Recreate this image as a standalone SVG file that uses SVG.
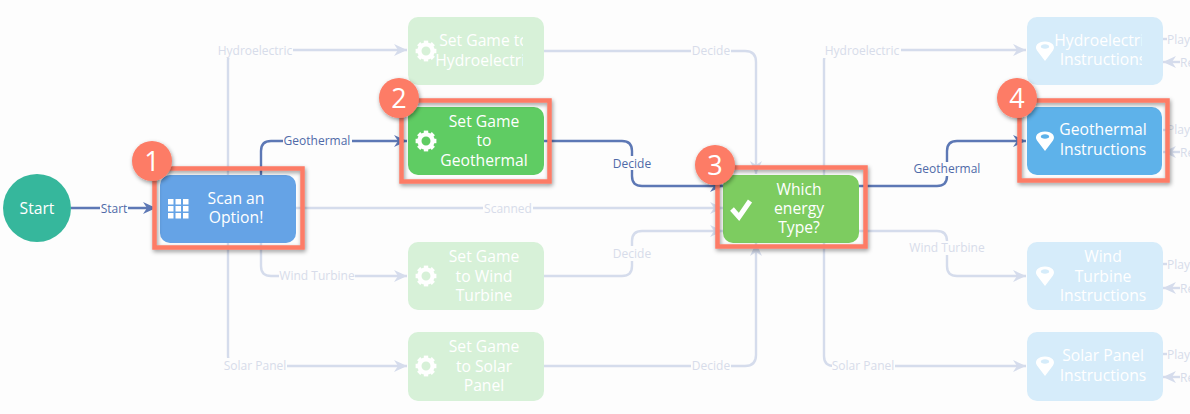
<svg xmlns="http://www.w3.org/2000/svg" width="1190" height="414" viewBox="0 0 1190 414">
<style>
text{font-family:"Open Sans","Liberation Sans",sans-serif;text-anchor:middle}
.n{font-size:15.7px;fill:#fff}
.l{font-size:12px}
.la{fill:#4f6aa8}.lf{fill:#d7dcea}
.s{text-anchor:start}
.bg{fill:#fdfdfd}
.c{fill:none;stroke-width:2.4}
.cf{stroke:#d5dcec;marker-end:url(#af)}
.ca{stroke:#5d78b5;marker-end:url(#aa)}
.cs{stroke:#d5dcec}
.fg{fill:#d7f1d8}.fb{fill:#d6ecfa}
.hl{fill:none;stroke:#fd7b66;stroke-width:4.5;filter:url(#sh)}
.b{fill:#fd7b66;filter:url(#sh)}
.d{font-size:27px;fill:#fff}
</style>
<defs>
<marker id="af" markerUnits="userSpaceOnUse" markerWidth="14" markerHeight="14" refX="13" refY="7" orient="auto"><path d="M0,1 L13,7 L0,13 L4,7 z" fill="#d5dcec"/></marker>
<marker id="aa" markerUnits="userSpaceOnUse" markerWidth="14" markerHeight="14" refX="13" refY="7" orient="auto"><path d="M0,1 L13,7 L0,13 L4,7 z" fill="#5d78b5"/></marker>
<filter id="sh" x="-15%" y="-15%" width="130%" height="130%"><feDropShadow dx="1" dy="2" stdDeviation="2" flood-color="#000" flood-opacity=".4"/></filter>
<g id="gear" fill="#fff"><circle r="6.6" fill="none" stroke="#fff" stroke-width="4.2"/><g id="t"><rect x="-2.2" y="-10.4" width="4.4" height="4"/><rect x="-2.2" y="6.4" width="4.4" height="4"/><rect x="-10.4" y="-2.2" width="4" height="4.4"/><rect x="6.4" y="-2.2" width="4" height="4.4"/></g><use href="#t" transform="rotate(45)"/></g>
<path id="pin" fill="#fff" fill-rule="evenodd" d="M0,10 L-8,-0.500 C-11,-5 -7,-9.500 0,-9.500 C7,-9.500 11,-5 8,-0.500 Z M0,-6.800 C-2.600,-6.800 -4.200,-5.800 -4.200,-4.500 C-4.200,-3.200 -2.600,-2.300 0,-2.300 C2.600,-2.300 4.200,-3.200 4.200,-4.500 C4.200,-5.800 2.600,-6.800 0,-6.800 Z"/>
<clipPath id="cl1"><rect x="436" y="17" width="87" height="68"/></clipPath>
<clipPath id="cl2"><rect x="1050" y="17" width="92" height="68"/></clipPath>
</defs>
<rect width="1190" height="414" fill="#fdfdfd"/>
<g id="connectors">
<path class="c cf" d="M228,175 V60 Q228,50 238,50 H407"/>
<path class="c cf" d="M228,243 V356 Q228,366 238,366 H407"/>
<path class="c cf" d="M261,243 V266 Q261,276 271,276 H407"/>
<path class="c cf" d="M296,208 H723"/>
<path class="c cf" d="M544,51 H745 Q756,51 756,62 V174"/>
<path class="c cf" d="M544,276 H622 Q632,276 632,266 V241 Q632,231 642,231 H723"/>
<path class="c cf" d="M544,366 H745 Q756,366 756,355 V243"/>
<path class="c cf" d="M824,175 V60 Q824,50 834,50 H1026"/>
<path class="c cf" d="M824,243 V356 Q824,366 834,366 H1026"/>
<path class="c cf" d="M859,231 H937 Q947,231 947,241 V266 Q947,276 957,276 H1026"/>
<path class="c ca" d="M71,208 H156"/>
<path class="c ca" d="M261,175 V151 Q261,141 271,141 H407"/>
<path class="c ca" d="M544,141 H622 Q632,141 632,151 V176 Q632,186 642,186 H723"/>
<path class="c ca" d="M859,186 H937 Q947,186 947,176 V151 Q947,141 957,141 H1026"/>
<g class="c cs"><path d="M1163,39 H1167"/><path d="M1163,130 H1167"/><path d="M1163,264 H1167"/><path d="M1163,354 H1167"/></g>
<path class="c cf" d="M1180,62 H1163"/><path class="c cf" d="M1180,152 H1163"/><path class="c cf" d="M1180,288 H1163"/><path class="c cf" d="M1180,377 H1163"/>
<g class="bg">
<rect x="100" y="202" width="28" height="14"/>
<rect x="283" y="134" width="69" height="14"/>
<rect x="217" y="43" width="76" height="15"/>
<rect x="279" y="269" width="76" height="14"/>
<rect x="223" y="358" width="64" height="15"/>
<rect x="483" y="201" width="50" height="14"/>
<rect x="691" y="44" width="40" height="14"/>
<rect x="612" y="156" width="40" height="14"/>
<rect x="612" y="246" width="40" height="15"/>
<rect x="691" y="359" width="40" height="14"/>
<rect x="823" y="43" width="78" height="15"/>
<rect x="913" y="162" width="69" height="14"/>
<rect x="909" y="241" width="77" height="14"/>
<rect x="832" y="359" width="63" height="14"/>
</g>
<g>
<text class="l la" x="114" y="213">Start</text>
<text class="l la" x="317" y="145">Geothermal</text>
<text class="l lf" x="255" y="55">Hydroelectric</text>
<text class="l lf" x="317" y="280">Wind Turbine</text>
<text class="l lf" x="255" y="370">Solar Panel</text>
<text class="l lf" x="508" y="213">Scanned</text>
<text class="l lf" x="711" y="55">Decide</text>
<text class="l la" x="632" y="168">Decide</text>
<text class="l lf" x="632" y="258">Decide</text>
<text class="l lf" x="711" y="370">Decide</text>
<text class="l lf" x="862" y="55">Hydroelectric</text>
<text class="l la" x="947" y="173">Geothermal</text>
<text class="l lf" x="947" y="252">Wind Turbine</text>
<text class="l lf" x="863" y="370">Solar Panel</text>
<text class="l lf s" x="1167" y="44">Play</text>
<text class="l lf s" x="1180" y="67">Re</text>
<text class="l lf s" x="1167" y="134">Play</text>
<text class="l lf s" x="1180" y="157">Re</text>
<text class="l lf s" x="1167" y="269">Play</text>
<text class="l lf s" x="1180" y="293">Re</text>
<text class="l lf s" x="1167" y="359">Play</text>
<text class="l lf s" x="1180" y="382">Re</text>
</g>
</g>
<g id="start"><circle cx="37" cy="208" r="34" fill="#36b79c"/><text class="n" x="37" y="214">Start</text></g>
<g id="scan">
<rect x="160" y="175" width="136" height="68" rx="10" fill="#65a3e6"/>
<g fill="#fff"><rect x="168" y="199" width="5.500" height="5.500"/><rect x="175.500" y="199" width="5.500" height="5.500"/><rect x="183" y="199" width="5.500" height="5.500"/><rect x="168" y="206" width="5.500" height="5.500"/><rect x="175.500" y="206" width="5.500" height="5.500"/><rect x="183" y="206" width="5.500" height="5.500"/><rect x="168" y="213" width="5.500" height="5.500"/><rect x="175.500" y="213" width="5.500" height="5.500"/><rect x="183" y="213" width="5.500" height="5.500"/></g>
<text class="n" x="236" y="204">Scan an</text><text class="n" x="236" y="223">Option!</text>
<rect class="hl" x="154.500" y="168.500" width="148" height="79"/>
<circle class="b" cx="152" cy="161" r="20"/><text class="d" x="152" y="171">1</text>
</g>
<g id="set-hydro">
<rect class="fg" x="408" y="17" width="136" height="68" rx="10"/><use href="#gear" x="426" y="51"/>
<g clip-path="url(#cl1)"><text class="n" x="484" y="46">Set Game to</text><text class="n" x="484" y="66">Hydroelectric</text></g>
</g>
<g id="set-geo">
<rect x="408" y="107" width="136" height="68" rx="10" fill="#5fcc63"/><use href="#gear" x="426" y="141"/>
<text class="n" x="484" y="127">Set Game</text><text class="n" x="484" y="146">to</text><text class="n" x="484" y="166">Geothermal</text>
<rect class="hl" x="401.500" y="100.500" width="148" height="81"/>
<circle class="b" cx="399" cy="98" r="20"/><text class="d" x="399" y="108">2</text>
</g>
<g id="set-wind">
<rect class="fg" x="408" y="242" width="136" height="68" rx="10"/><use href="#gear" x="426" y="276"/>
<text class="n" x="484" y="262">Set Game</text><text class="n" x="484" y="282">to Wind</text><text class="n" x="484" y="301">Turbine</text>
</g>
<g id="set-solar">
<rect class="fg" x="408" y="332" width="136" height="69" rx="10"/><use href="#gear" x="426" y="366"/>
<text class="n" x="484" y="352">Set Game</text><text class="n" x="484" y="372">to Solar</text><text class="n" x="484" y="391">Panel</text>
</g>
<g id="which">
<rect x="723" y="175" width="136" height="68" rx="10" fill="#7dcc60"/>
<path d="M732,209 L739,217 L750,201" fill="none" stroke="#fff" stroke-width="5"/>
<text class="n" x="799" y="195">Which</text><text class="n" x="799" y="214">energy</text><text class="n" x="799" y="233">Type?</text>
<rect class="hl" x="717.500" y="167.500" width="148" height="79"/>
<circle class="b" cx="715" cy="165" r="20"/><text class="d" x="715" y="175">3</text>
</g>
<g id="inst-hydro">
<rect class="fb" x="1027" y="17" width="136" height="68" rx="10"/><use href="#pin" x="1045" y="51"/>
<g clip-path="url(#cl2)"><text class="n" x="1103" y="46">Hydroelectric</text><text class="n" x="1103" y="65">Instructions</text></g>
</g>
<g id="inst-geo">
<rect x="1027" y="107" width="135" height="68" rx="10" fill="#5eb2ea"/><use href="#pin" x="1045" y="141"/>
<text class="n" x="1103" y="135">Geothermal</text><text class="n" x="1103" y="155">Instructions</text>
<rect class="hl" x="1019.500" y="100.500" width="148" height="80"/>
<circle class="b" cx="1017" cy="98" r="20"/><text class="d" x="1017" y="108">4</text>
</g>
<g id="inst-wind">
<rect class="fb" x="1027" y="242" width="136" height="68" rx="10"/><use href="#pin" x="1045" y="276"/>
<text class="n" x="1103" y="262">Wind</text><text class="n" x="1103" y="282">Turbine</text><text class="n" x="1103" y="301">Instructions</text>
</g>
<g id="inst-solar">
<rect class="fb" x="1027" y="332" width="136" height="69" rx="10"/><use href="#pin" x="1045" y="366"/>
<text class="n" x="1103" y="361">Solar Panel</text><text class="n" x="1103" y="381">Instructions</text>
</g>
</svg>
